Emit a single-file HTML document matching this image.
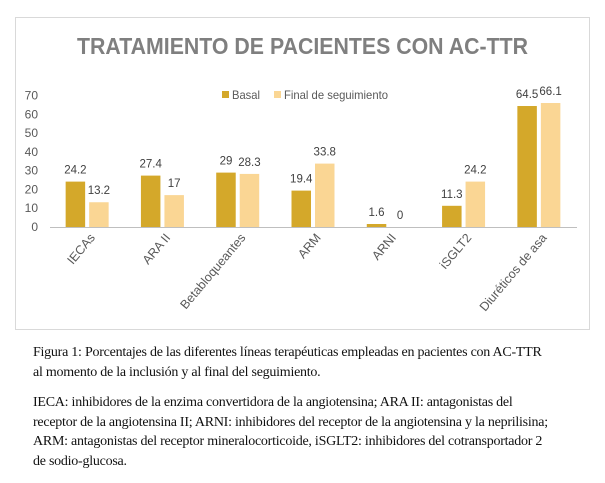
<!DOCTYPE html>
<html><head><meta charset="utf-8"><style>
body{margin:0;width:605px;height:483px;background:#fff;overflow:hidden;position:relative;font-family:"Liberation Sans",sans-serif}
#frame{position:absolute;left:15px;top:17px;width:575px;height:313px;border:1px solid #d9d9d9;box-sizing:border-box}
.cap{position:absolute;left:33px;font-family:"Liberation Serif",serif;font-size:14px;letter-spacing:-0.25px;color:#111;white-space:nowrap;line-height:19.5px}
</style></head><body>
<div id="frame"></div>
<svg id="chart" width="605" height="335" style="position:absolute;left:0;top:0">
<text x="77" y="54" textLength="451" lengthAdjust="spacingAndGlyphs" font-size="23" font-weight="bold" fill="#7f7f7f">TRATAMIENTO DE PACIENTES CON AC-TTR</text>
<g>
<rect x="222" y="91" width="7" height="7" fill="#d4a82a"/>
<text x="232" y="99" font-size="12" textLength="28" lengthAdjust="spacingAndGlyphs" fill="#595959">Basal</text>
<rect x="274" y="91" width="7" height="7" fill="#fad694"/>
<text x="284" y="99" font-size="12" textLength="104" lengthAdjust="spacingAndGlyphs" fill="#595959">Final de seguimiento</text>
</g>
<g id="g"></g>
</svg>
<div class="cap" style="top:343px">Figura 1: Porcentajes de las diferentes líneas terapéuticas empleadas en pacientes con AC-TTR<br>al momento de la inclusión y al final del seguimiento.</div>
<div class="cap" style="top:393px">IECA: inhibidores de la enzima convertidora de la angiotensina; ARA II: antagonistas del<br>receptor de la angiotensina II; ARNI: inhibidores del receptor de la angiotensina y la neprilisina;<br>ARM: antagonistas del receptor mineralocorticoide, iSGLT2: inhibidores del cotransportador 2<br>de sodio-glucosa.</div>
<script>
const categories=["IECAs","ARA II","Betabloqueantes","ARM","ARNI","iSGLT2","Diuréticos de asa"];
const basal=[24.2,27.4,29,19.4,1.6,11.3,64.5];
const finalSeg=[13.2,17,28.3,33.8,0,24.2,66.1];
const yTicks=[0,10,20,30,40,50,60,70];
const NS="http://www.w3.org/2000/svg",g=document.getElementById('g');
const x0=50,x1=577,yb=227,yt=95.7,ymax=70;
const y=v=>yb-(yb-yt)*v/ymax;
const cw=(x1-x0)/categories.length;
function mk(t,a){const e=document.createElementNS(NS,t);for(const k in a)e.setAttribute(k,a[k]);g.appendChild(e);return e;}
yTicks.forEach(v=>{const t=mk('text',{x:38,y:y(v)+4,'text-anchor':'end','font-size':12,fill:'#595959'});t.textContent=v;

});
categories.forEach((c,i)=>{
 const cx=x0+cw*(i+0.5);
 [[basal[i],'#d4a82a',cx-22,'bar-basal'],[finalSeg[i],'#fad694',cx+1.5,'bar-final']].forEach(([v,col,bx,nm])=>{
  const r=mk('rect',{x:bx,y:y(v),width:19.5,height:yb-y(v),fill:col});
  
  
  const t=mk('text',{x:bx+9.75,y:y(v)-8,'text-anchor':'middle','font-size':11.5,fill:'#404040'});t.textContent=v;
  
  
 });
 const l=mk('text',{x:cx+8,y:238,'text-anchor':'end','font-size':12.5,fill:'#595959',transform:`rotate(-50 ${cx+8} 238)`});l.textContent=c;
 
 
});
const ax=mk('line',{x1:x0,x2:x1,y1:yb+0.5,y2:yb+0.5,stroke:'#bfbfbf','stroke-width':1});


</script>
</body></html>
